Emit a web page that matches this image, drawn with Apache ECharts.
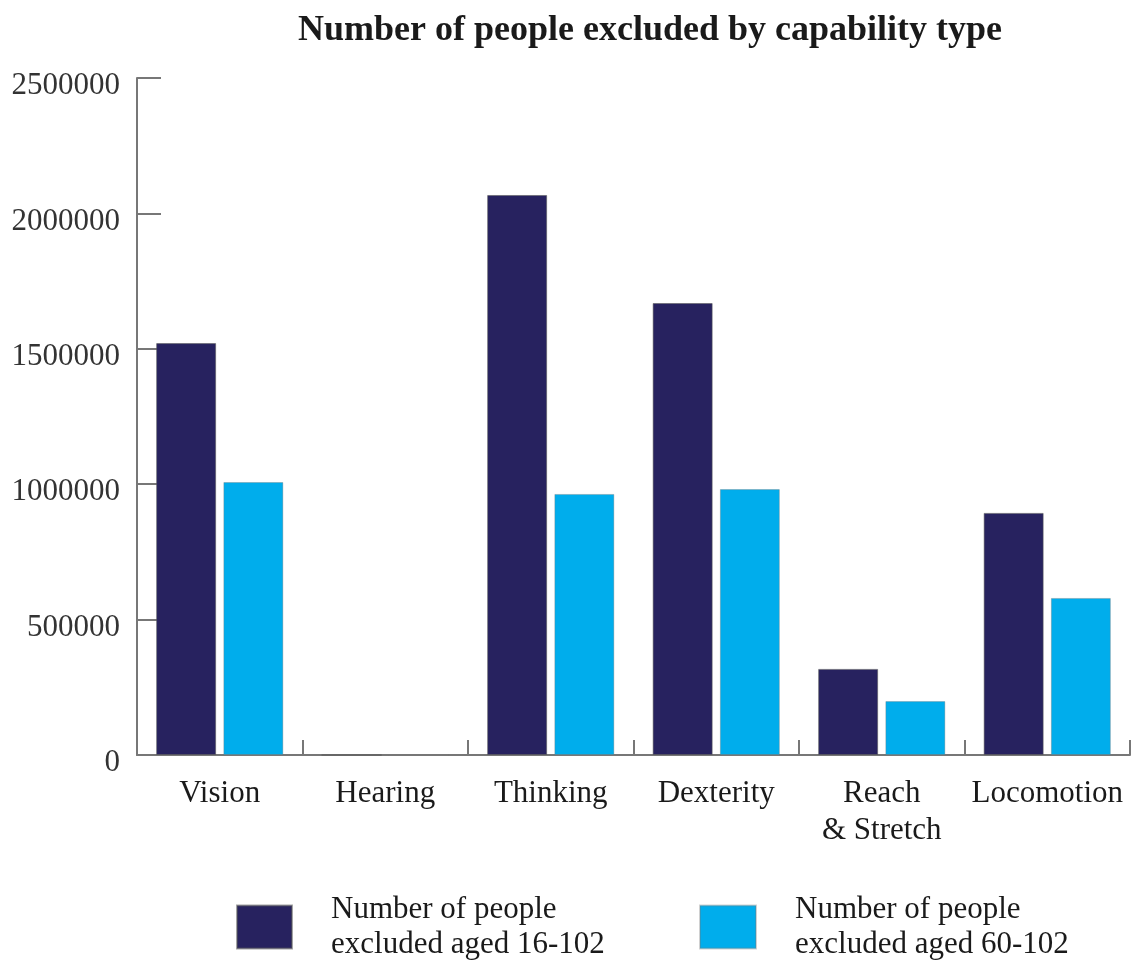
<!DOCTYPE html>
<html>
<head>
<meta charset="utf-8">
<script src="https://cdn.jsdelivr.net/npm/echarts@6/dist/echarts.min.js"></script>
<style>
  html, body { margin: 0; padding: 0; background: #fff; }
  #chart { width: 1141px; height: 963px; }
</style>
</head>
<body>
<div id="chart"></div>
<script>
// Capability types along the x axis
const categories = ['Vision', 'Hearing', 'Thinking', 'Dexterity', 'Reach\n& Stretch', 'Locomotion'];

// Number of people excluded, by age band
const seriesNames = [
  'Number of people\nexcluded aged 16-102',
  'Number of people\nexcluded aged 60-102'
];
const excluded16to102 = [1521000, 0, 2068000, 1669000, 318000, 894000];
const excluded60to102 = [1008000, 0, 964000, 982000, 199000, 580000];

// Y axis range and tick step
const yMin = 0;
const yMax = 2500000;
const yStep = 500000;

const fontFamily = '"Liberation Serif", "DejaVu Serif", serif';
const darkBlue = '#27225f';
const lightBlue = '#00adec';

const chart = echarts.init(document.getElementById('chart'));

const legendText = {
  fontFamily: fontFamily,
  fontSize: 31,
  color: '#1a1a1a',
  lineHeight: 35,
  padding: [0, 0, 0, 34]
};

chart.setOption({
  backgroundColor: '#ffffff',
  animation: false,
  title: {
    text: 'Number of people excluded by capability type',
    left: 298,
    top: 13,
    padding: 0,
    textStyle: {
      fontFamily: fontFamily,
      fontSize: 36,
      fontWeight: 'bold',
      color: '#1a1a1a'
    }
  },
  legend: [
    {
      data: [seriesNames[0]],
      left: 236,
      top: 892,
      padding: 0,
      itemWidth: 55,
      itemHeight: 43,
      icon: 'rect',
      textStyle: legendText
    },
    {
      data: [seriesNames[1]],
      left: 699,
      top: 892,
      padding: 0,
      itemWidth: 56,
      itemHeight: 43,
      icon: 'rect',
      textStyle: legendText
    }
  ],
  grid: {
    left: 137,
    right: 11,
    top: 78,
    bottom: 208,
    containLabel: false
  },
  xAxis: {
    type: 'category',
    data: categories,
    axisLine: { lineStyle: { color: '#777', width: 2 } },
    axisTick: {
      show: true,
      inside: true,
      length: 15,
      alignWithLabel: false,
      lineStyle: { color: '#777', width: 2 }
    },
    axisLabel: {
      fontFamily: fontFamily,
      fontSize: 31,
      color: '#1a1a1a',
      margin: 20,
      lineHeight: 37,
      interval: 0
    },
    splitLine: { show: false }
  },
  yAxis: {
    type: 'value',
    min: yMin,
    max: yMax,
    interval: yStep,
    axisLine: { show: true, lineStyle: { color: '#777', width: 2 } },
    axisTick: {
      show: true,
      inside: true,
      length: 24,
      lineStyle: { color: '#777', width: 2 }
    },
    axisLabel: {
      fontFamily: fontFamily,
      fontSize: 31,
      color: '#333',
      margin: 17,
      verticalAlign: 'top',
      lineHeight: 16,
      formatter: function (v) { return String(v); }
    },
    splitLine: { show: false }
  },
  series: [
    {
      name: seriesNames[0],
      type: 'bar',
      data: excluded16to102,
      barWidth: 60,
      barGap: '12%',
      itemStyle: { color: darkBlue, borderColor: 'rgba(90,90,90,0.55)', borderWidth: 1 }
    },
    {
      name: seriesNames[1],
      type: 'bar',
      data: excluded60to102,
      barWidth: 60,
      barGap: '12%',
      itemStyle: { color: lightBlue, borderColor: 'rgba(120,120,120,0.35)', borderWidth: 1 }
    }
  ]
});
</script>
</body>
</html>
